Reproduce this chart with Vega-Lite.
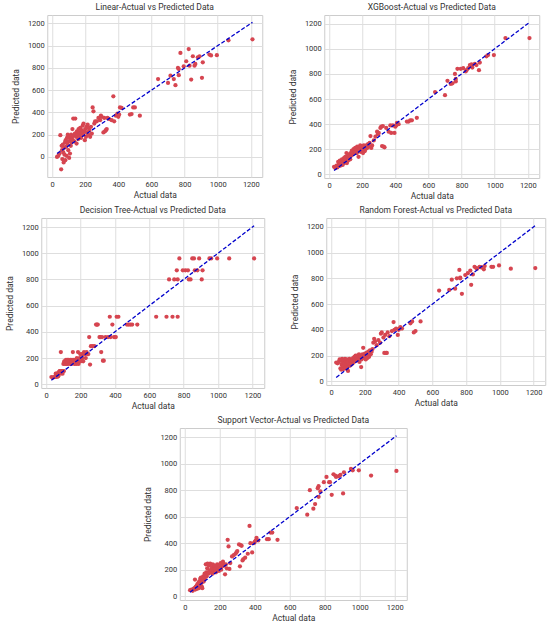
{
  "$schema": "https://vega.github.io/schema/vega-lite/v6.json",
  "description": "Actual vs predicted data for five regression models",
  "padding": {"left": 4, "top": 2, "right": 4, "bottom": 2},
  "center": true,
  "spacing": 4,
  "datasets": {
    "pts": [
      {"a": 30, "lin": 0, "xgb": 60, "dt": 55, "rf": 145, "svr": 45},
      {"a": 38, "lin": 10, "xgb": 50, "dt": 50, "rf": 140, "svr": 50},
      {"a": 45, "lin": 30, "xgb": 70, "dt": 55, "rf": 150, "svr": 40},
      {"a": 50, "lin": 195, "xgb": 55, "dt": 55, "rf": 170, "svr": 55},
      {"a": 55, "lin": -112, "xgb": 100, "dt": 80, "rf": 100, "svr": 60},
      {"a": 58, "lin": 100, "xgb": 65, "dt": 60, "rf": 160, "svr": 125},
      {"a": 60, "lin": 60, "xgb": 90, "dt": 80, "rf": 90, "svr": 50},
      {"a": 62, "lin": -20, "xgb": 75, "dt": 55, "rf": 130, "svr": 70},
      {"a": 65, "lin": 110, "xgb": 110, "dt": 80, "rf": 175, "svr": 60},
      {"a": 68, "lin": 40, "xgb": 80, "dt": 80, "rf": 110, "svr": 80},
      {"a": 70, "lin": -50, "xgb": 70, "dt": 60, "rf": 150, "svr": 55},
      {"a": 72, "lin": 80, "xgb": 100, "dt": 80, "rf": 95, "svr": 90},
      {"a": 75, "lin": 20, "xgb": 85, "dt": 95, "rf": 165, "svr": 70},
      {"a": 78, "lin": 130, "xgb": 120, "dt": 100, "rf": 120, "svr": 100},
      {"a": 80, "lin": -30, "xgb": 95, "dt": 100, "rf": 140, "svr": 60},
      {"a": 82, "lin": 150, "xgb": 75, "dt": 80, "rf": 175, "svr": 110},
      {"a": 85, "lin": 90, "xgb": 110, "dt": 245, "rf": 100, "svr": 90},
      {"a": 88, "lin": 10, "xgb": 100, "dt": 100, "rf": 160, "svr": 130},
      {"a": 90, "lin": 170, "xgb": 130, "dt": 95, "rf": 130, "svr": 80},
      {"a": 92, "lin": 120, "xgb": 90, "dt": 100, "rf": 170, "svr": 140},
      {"a": 95, "lin": 200, "xgb": 110, "dt": 80, "rf": 110, "svr": 100},
      {"a": 98, "lin": 60, "xgb": 140, "dt": 100, "rf": 150, "svr": 70},
      {"a": 100, "lin": 140, "xgb": 100, "dt": 155, "rf": 80, "svr": 60},
      {"a": 103, "lin": -10, "xgb": 120, "dt": 100, "rf": 160, "svr": 120},
      {"a": 105, "lin": 180, "xgb": 170, "dt": 175, "rf": 130, "svr": 150},
      {"a": 108, "lin": 30, "xgb": 90, "dt": 175, "rf": 175, "svr": 110},
      {"a": 110, "lin": 160, "xgb": 130, "dt": 155, "rf": 120, "svr": 130},
      {"a": 113, "lin": 100, "xgb": 150, "dt": 175, "rf": 140, "svr": 170},
      {"a": 115, "lin": 200, "xgb": 110, "dt": 185, "rf": 165, "svr": 140},
      {"a": 118, "lin": 130, "xgb": 140, "dt": 155, "rf": 150, "svr": 160},
      {"a": 120, "lin": 170, "xgb": 130, "dt": 175, "rf": 130, "svr": 240},
      {"a": 123, "lin": 250, "xgb": 160, "dt": 185, "rf": 170, "svr": 180},
      {"a": 125, "lin": 150, "xgb": 150, "dt": 155, "rf": 160, "svr": 150},
      {"a": 128, "lin": 345, "xgb": 120, "dt": 175, "rf": 140, "svr": 210},
      {"a": 130, "lin": 190, "xgb": 170, "dt": 185, "rf": 180, "svr": 245},
      {"a": 135, "lin": 140, "xgb": 150, "dt": 175, "rf": 150, "svr": 170},
      {"a": 138, "lin": 210, "xgb": 190, "dt": 155, "rf": 190, "svr": 230},
      {"a": 140, "lin": 345, "xgb": 160, "dt": 185, "rf": 170, "svr": 190},
      {"a": 145, "lin": 180, "xgb": 180, "dt": 175, "rf": 200, "svr": 245},
      {"a": 148, "lin": 120, "xgb": 200, "dt": 155, "rf": 160, "svr": 180},
      {"a": 150, "lin": 230, "xgb": 170, "dt": 185, "rf": 185, "svr": 200},
      {"a": 155, "lin": 200, "xgb": 190, "dt": 245, "rf": 200, "svr": 220},
      {"a": 158, "lin": 160, "xgb": 210, "dt": 175, "rf": 170, "svr": 170},
      {"a": 160, "lin": 250, "xgb": 180, "dt": 185, "rf": 190, "svr": 240},
      {"a": 165, "lin": 190, "xgb": 200, "dt": 155, "rf": 210, "svr": 190},
      {"a": 168, "lin": 220, "xgb": 170, "dt": 175, "rf": 150, "svr": 210},
      {"a": 170, "lin": 260, "xgb": 220, "dt": 185, "rf": 180, "svr": 230},
      {"a": 175, "lin": 170, "xgb": 190, "dt": 155, "rf": 195, "svr": 200},
      {"a": 178, "lin": 240, "xgb": 140, "dt": 200, "rf": 110, "svr": 180},
      {"a": 180, "lin": 210, "xgb": 210, "dt": 175, "rf": 170, "svr": 215},
      {"a": 185, "lin": 280, "xgb": 200, "dt": 245, "rf": 210, "svr": 240},
      {"a": 188, "lin": 200, "xgb": 230, "dt": 155, "rf": 190, "svr": 200},
      {"a": 190, "lin": 300, "xgb": 180, "dt": 185, "rf": 260, "svr": 220},
      {"a": 195, "lin": 230, "xgb": 215, "dt": 200, "rf": 200, "svr": 190},
      {"a": 198, "lin": 150, "xgb": 190, "dt": 230, "rf": 180, "svr": 230},
      {"a": 200, "lin": 250, "xgb": 225, "dt": 175, "rf": 215, "svr": 210},
      {"a": 205, "lin": 180, "xgb": 170, "dt": 185, "rf": 170, "svr": 250},
      {"a": 208, "lin": 270, "xgb": 200, "dt": 230, "rf": 190, "svr": 200},
      {"a": 210, "lin": 220, "xgb": 230, "dt": 200, "rf": 220, "svr": 240},
      {"a": 215, "lin": 290, "xgb": 185, "dt": 175, "rf": 180, "svr": 225},
      {"a": 218, "lin": 200, "xgb": 215, "dt": 230, "rf": 200, "svr": 260},
      {"a": 220, "lin": 260, "xgb": 200, "dt": 245, "rf": 230, "svr": 250},
      {"a": 225, "lin": 240, "xgb": 230, "dt": 230, "rf": 190, "svr": 230},
      {"a": 230, "lin": 180, "xgb": 210, "dt": 200, "rf": 240, "svr": 165},
      {"a": 235, "lin": 270, "xgb": 240, "dt": 245, "rf": 210, "svr": 240},
      {"a": 240, "lin": 210, "xgb": 220, "dt": 230, "rf": 230, "svr": 210},
      {"a": 245, "lin": 445, "xgb": 250, "dt": 230, "rf": 250, "svr": 425},
      {"a": 250, "lin": 410, "xgb": 305, "dt": 360, "rf": 300, "svr": 375},
      {"a": 255, "lin": 300, "xgb": 210, "dt": 150, "rf": 330, "svr": 205},
      {"a": 260, "lin": 320, "xgb": 230, "dt": 290, "rf": 310, "svr": 250},
      {"a": 270, "lin": 320, "xgb": 270, "dt": 290, "rf": 280, "svr": 300},
      {"a": 280, "lin": 350, "xgb": 300, "dt": 290, "rf": 320, "svr": 310},
      {"a": 290, "lin": 330, "xgb": 340, "dt": 455, "rf": 300, "svr": 320},
      {"a": 295, "lin": 370, "xgb": 320, "dt": 455, "rf": 370, "svr": 330},
      {"a": 300, "lin": 360, "xgb": 330, "dt": 455, "rf": 380, "svr": 340},
      {"a": 310, "lin": 220, "xgb": 370, "dt": 360, "rf": 340, "svr": 390},
      {"a": 315, "lin": 350, "xgb": 380, "dt": 360, "rf": 220, "svr": 225},
      {"a": 320, "lin": 230, "xgb": 225, "dt": 245, "rf": 360, "svr": 385},
      {"a": 325, "lin": 240, "xgb": 385, "dt": 360, "rf": 220, "svr": 380},
      {"a": 330, "lin": 250, "xgb": 220, "dt": 180, "rf": 220, "svr": 270},
      {"a": 335, "lin": 350, "xgb": 215, "dt": 180, "rf": 380, "svr": 280},
      {"a": 345, "lin": 340, "xgb": 370, "dt": 360, "rf": 350, "svr": 290},
      {"a": 360, "lin": 330, "xgb": 340, "dt": 360, "rf": 390, "svr": 320},
      {"a": 370, "lin": 545, "xgb": 390, "dt": 515, "rf": 460, "svr": 530},
      {"a": 375, "lin": 320, "xgb": 330, "dt": 360, "rf": 400, "svr": 400},
      {"a": 385, "lin": 370, "xgb": 390, "dt": 455, "rf": 410, "svr": 330},
      {"a": 395, "lin": 390, "xgb": 330, "dt": 360, "rf": 360, "svr": 400},
      {"a": 400, "lin": 360, "xgb": 380, "dt": 360, "rf": 400, "svr": 410},
      {"a": 405, "lin": 380, "xgb": 390, "dt": 360, "rf": 410, "svr": 420},
      {"a": 410, "lin": 445, "xgb": 410, "dt": 515, "rf": 420, "svr": 440},
      {"a": 420, "lin": 440, "xgb": 400, "dt": 515, "rf": 410, "svr": 420},
      {"a": 470, "lin": 380, "xgb": 420, "dt": 455, "rf": 450, "svr": 430},
      {"a": 480, "lin": 385, "xgb": 420, "dt": 455, "rf": 465, "svr": 430},
      {"a": 490, "lin": 445, "xgb": 430, "dt": 455, "rf": 380, "svr": 480},
      {"a": 500, "lin": 445, "xgb": 430, "dt": 455, "rf": 390, "svr": 480},
      {"a": 530, "lin": 370, "xgb": 450, "dt": 455, "rf": 465, "svr": 425},
      {"a": 640, "lin": 700, "xgb": 655, "dt": 515, "rf": 705, "svr": 665},
      {"a": 700, "lin": 665, "xgb": 630, "dt": 515, "rf": 710, "svr": 615},
      {"a": 715, "lin": 730, "xgb": 745, "dt": 800, "rf": 790, "svr": 800},
      {"a": 735, "lin": 700, "xgb": 720, "dt": 515, "rf": 720, "svr": 660},
      {"a": 745, "lin": 645, "xgb": 725, "dt": 800, "rf": 800, "svr": 695},
      {"a": 760, "lin": 800, "xgb": 800, "dt": 870, "rf": 865, "svr": 815},
      {"a": 765, "lin": 735, "xgb": 740, "dt": 800, "rf": 805, "svr": 830},
      {"a": 765, "lin": 790, "xgb": 760, "dt": 515, "rf": 800, "svr": 750},
      {"a": 775, "lin": 935, "xgb": 840, "dt": 960, "rf": 680, "svr": 790},
      {"a": 795, "lin": 815, "xgb": 840, "dt": 870, "rf": 825, "svr": 860},
      {"a": 810, "lin": 860, "xgb": 845, "dt": 870, "rf": 840, "svr": 900},
      {"a": 825, "lin": 970, "xgb": 820, "dt": 870, "rf": 860, "svr": 860},
      {"a": 830, "lin": 820, "xgb": 830, "dt": 800, "rf": 750, "svr": 860},
      {"a": 840, "lin": 695, "xgb": 845, "dt": 800, "rf": 830, "svr": 765},
      {"a": 850, "lin": 905, "xgb": 870, "dt": 960, "rf": 890, "svr": 920},
      {"a": 860, "lin": 820, "xgb": 875, "dt": 960, "rf": 880, "svr": 910},
      {"a": 865, "lin": 836, "xgb": 850, "dt": 870, "rf": 875, "svr": 900},
      {"a": 880, "lin": 895, "xgb": 880, "dt": 870, "rf": 890, "svr": 905},
      {"a": 890, "lin": 903, "xgb": 870, "dt": 960, "rf": 885, "svr": 915},
      {"a": 905, "lin": 711, "xgb": 830, "dt": 800, "rf": 870, "svr": 775},
      {"a": 910, "lin": 851, "xgb": 890, "dt": 870, "rf": 895, "svr": 935},
      {"a": 950, "lin": 920, "xgb": 940, "dt": 960, "rf": 890, "svr": 960},
      {"a": 960, "lin": 912, "xgb": 950, "dt": 960, "rf": 890, "svr": 950},
      {"a": 995, "lin": 915, "xgb": 950, "dt": 960, "rf": 900, "svr": 950},
      {"a": 1065, "lin": 1048, "xgb": 1085, "dt": 960, "rf": 875, "svr": 910},
      {"a": 1210, "lin": 1057, "xgb": 1085, "dt": 960, "rf": 880, "svr": 945}
    ],
    "diag": [
      {"v": 30},
      {"v": 1210}
    ]
  },
  "vconcat": [
    {
      "hconcat": [
        {
          "width": 215,
          "height": 162,
          "title": "Linear-Actual vs Predicted Data",
          "layer": [
            {
              "data": {"name": "pts"},
              "mark": {"type": "circle", "size": 18, "color": "#d64550", "opacity": 1},
              "encoding": {
                "x": {"field": "a", "type": "quantitative", "title": "Actual data", "scale": {"domain": [-29, 1269], "nice": false, "zero": false}},
                "y": {"field": "lin", "type": "quantitative", "title": "Predicted data", "scale": {"domain": [-181, 1276], "nice": false, "zero": false}}
              }
            },
            {
              "data": {"name": "diag"},
              "mark": {"type": "line", "color": "#0000cc", "strokeDash": [4, 2], "strokeWidth": 1.3},
              "encoding": {
                "x": {"field": "v", "type": "quantitative", "title": "Actual data"},
                "y": {"field": "v", "type": "quantitative", "title": "Predicted data"}
              }
            }
          ]
        },
        {
          "width": 215,
          "height": 163,
          "title": "XGBoost-Actual vs Predicted Data",
          "layer": [
            {
              "data": {"name": "pts"},
              "mark": {"type": "circle", "size": 18, "color": "#d64550", "opacity": 1},
              "encoding": {
                "x": {"field": "a", "type": "quantitative", "title": "Actual data", "scale": {"domain": [-29, 1269], "nice": false, "zero": false}},
                "y": {"field": "xgb", "type": "quantitative", "title": "Predicted data", "scale": {"domain": [-29, 1269], "nice": false, "zero": false}}
              }
            },
            {
              "data": {"name": "diag"},
              "mark": {"type": "line", "color": "#0000cc", "strokeDash": [4, 2], "strokeWidth": 1.3},
              "encoding": {
                "x": {"field": "v", "type": "quantitative", "title": "Actual data"},
                "y": {"field": "v", "type": "quantitative", "title": "Predicted data"}
              }
            }
          ]
        }
      ]
    },
    {
      "hconcat": [
        {
          "width": 223,
          "height": 170,
          "title": "Decision Tree-Actual vs Predicted Data",
          "layer": [
            {
              "data": {"name": "pts"},
              "mark": {"type": "circle", "size": 18, "color": "#d64550", "opacity": 1},
              "encoding": {
                "x": {"field": "a", "type": "quantitative", "title": "Actual data", "scale": {"domain": [-29, 1269], "nice": false, "zero": false}},
                "y": {"field": "dt", "type": "quantitative", "title": "Predicted data", "scale": {"domain": [-29, 1269], "nice": false, "zero": false}}
              }
            },
            {
              "data": {"name": "diag"},
              "mark": {"type": "line", "color": "#0000cc", "strokeDash": [4, 2], "strokeWidth": 1.3},
              "encoding": {
                "x": {"field": "v", "type": "quantitative", "title": "Actual data"},
                "y": {"field": "v", "type": "quantitative", "title": "Predicted data"}
              }
            }
          ]
        },
        {
          "width": 219,
          "height": 167,
          "title": "Random Forest-Actual vs Predicted Data",
          "layer": [
            {
              "data": {"name": "pts"},
              "mark": {"type": "circle", "size": 18, "color": "#d64550", "opacity": 1},
              "encoding": {
                "x": {"field": "a", "type": "quantitative", "title": "Actual data", "scale": {"domain": [-29, 1269], "nice": false, "zero": false}},
                "y": {"field": "rf", "type": "quantitative", "title": "Predicted data", "scale": {"domain": [-29, 1269], "nice": false, "zero": false}}
              }
            },
            {
              "data": {"name": "diag"},
              "mark": {"type": "line", "color": "#0000cc", "strokeDash": [4, 2], "strokeWidth": 1.3},
              "encoding": {
                "x": {"field": "v", "type": "quantitative", "title": "Actual data"},
                "y": {"field": "v", "type": "quantitative", "title": "Predicted data"}
              }
            }
          ]
        }
      ]
    },
    {
      "width": 227,
      "height": 172,
      "title": "Support Vector-Actual vs Predicted Data",
      "layer": [
        {
          "data": {"name": "pts"},
          "mark": {"type": "circle", "size": 18, "color": "#d64550", "opacity": 1},
          "encoding": {
            "x": {"field": "a", "type": "quantitative", "title": "Actual data", "scale": {"domain": [-29, 1269], "nice": false, "zero": false}},
            "y": {"field": "svr", "type": "quantitative", "title": "Predicted data", "scale": {"domain": [-29, 1269], "nice": false, "zero": false}}
          }
        },
        {
          "data": {"name": "diag"},
          "mark": {"type": "line", "color": "#0000cc", "strokeDash": [4, 2], "strokeWidth": 1.3},
          "encoding": {
            "x": {"field": "v", "type": "quantitative", "title": "Actual data"},
            "y": {"field": "v", "type": "quantitative", "title": "Predicted data"}
          }
        }
      ]
    }
  ],
  "config": {
    "font": "Roboto",
    "view": {"stroke": "#cccccc", "strokeWidth": 1},
    "concat": {"spacing": 24},
    "axis": {
      "grid": true,
      "gridColor": "#dedede",
      "gridWidth": 1,
      "domain": false,
      "ticks": false,
      "values": [0, 200, 400, 600, 800, 1000, 1200],
      "format": "d",
      "labelOverlap": false,
      "labelFlush": false,
      "labelFontSize": 7.5,
      "titleFontSize": 8.5,
      "labelColor": "#333333",
      "titleColor": "#333333",
      "titleFontWeight": "normal",
      "labelPadding": 3
    },
    "axisX": {"titlePadding": 3},
    "axisY": {"titlePadding": 7},
    "title": {"fontSize": 8.5, "fontWeight": "normal", "color": "#333333", "offset": 4}
  }
}
